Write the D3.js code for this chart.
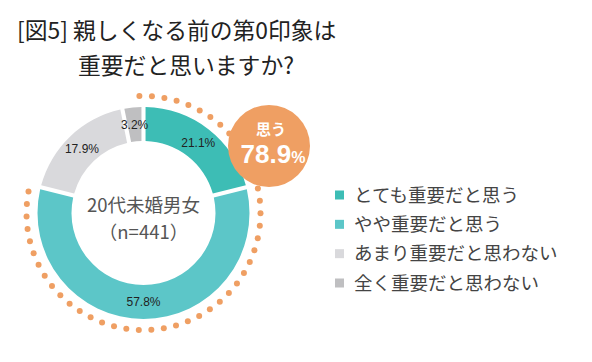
<!DOCTYPE html>
<html><head><meta charset="utf-8">
<script src="https://cdn.jsdelivr.net/npm/d3@7"></script>
<style>
html,body{margin:0;padding:0;background:#fff;}
svg{display:block;font-family:"Noto Sans CJK JP","Noto Sans",sans-serif;}
</style></head>
<body>
<svg id="chart" width="592" height="362"></svg>
<script>
const titleLines = ["[図5] 親しくなる前の第0印象は", "重要だと思いますか?"];
const categories = ["とても重要だと思う", "やや重要だと思う", "あまり重要だと思わない", "全く重要だと思わない"];
const values = [21.1, 57.8, 17.9, 3.2];
const colors = ["#3dbdb5", "#5cc6c8", "#d9d9dc", "#bfbfc1"];
const centerLines = ["20代未婚男女", "（n=441）"];
const highlightLabel = "思う";
const highlightValue = 78.9;

const svg = d3.select("#chart");
const cx = 143.5, cy = 213;
const rOuter = 106, rInner = 72, rDots = 117;
const orange = "#ef9f63";

// Title
svg.append("text").attr("x", 17).attr("y", 39)
  .attr("font-size", 22.8).attr("fill", "#222").text(titleLines[0]);
svg.append("text").attr("x", 78).attr("y", 74)
  .attr("font-size", 22.8).attr("fill", "#222").text(titleLines[1]);

const g = svg.append("g").attr("transform", `translate(${cx},${cy})`);

const angle = d3.scaleLinear().domain([0, 100]).range([0, 2 * Math.PI]);

// dotted arc for the "思う" total
const a0 = angle(0) - 0.035, a1 = angle(highlightValue) - 0.06;
const nDots = 47;
const dotAngles = d3.range(nDots).map(i => a0 + (a1 - a0) * i / (nDots - 1));
g.selectAll("circle.dot").data(dotAngles).join("circle")
  .attr("class", "dot")
  .attr("cx", a => rDots * Math.sin(a))
  .attr("cy", a => -rDots * Math.cos(a))
  .attr("r", 3)
  .attr("fill", orange);

// donut
const pie = d3.pie().sort(null).value(d => d).startAngle(0).endAngle(2 * Math.PI);
const arcs = pie(values);
const arc = d3.arc().innerRadius(rInner).outerRadius(rOuter).padAngle(0.032);
const labelArc = d3.arc().innerRadius(89).outerRadius(89);

g.selectAll("path.slice").data(arcs).join("path")
  .attr("class", "slice")
  .attr("d", arc)
  .attr("fill", (d, i) => colors[i]);

g.selectAll("text.pct").data(arcs).join("text")
  .attr("class", "pct")
  .attr("transform", d => `translate(${labelArc.centroid(d)})`)
  .attr("text-anchor", "middle").attr("dy", "0.35em")
  .attr("font-size", 12).attr("fill", "#222")
  .attr("font-family", "Liberation Sans, Arial, sans-serif")
  .text(d => d3.format(".1f")(d.data) + "%");

// center label
g.append("text").attr("text-anchor", "middle").attr("y", -7)
  .attr("dy", "0.35em").attr("font-size", 18.5).attr("fill", "#555").text(centerLines[0]);
g.append("text").attr("text-anchor", "middle").attr("y", 20)
  .attr("dy", "0.35em").attr("font-size", 18.5).attr("fill", "#555").text(centerLines[1]);

// highlight bubble
const bx = 269, by = 146, br = 41;
svg.append("circle").attr("cx", bx).attr("cy", by).attr("r", br).attr("fill", orange);
svg.append("text").attr("x", bx + 2).attr("y", by - 16).attr("dy", "0.35em")
  .attr("text-anchor", "middle").attr("font-size", 15).attr("font-weight", "bold")
  .attr("fill", "#fff").text(highlightLabel);
const vt = svg.append("text").attr("x", bx + 4).attr("y", by + 11).attr("dy", "0.35em")
  .attr("text-anchor", "middle").attr("fill", "#fff").attr("font-weight", "bold")
  .attr("font-family", "Liberation Sans, Arial, sans-serif");
vt.append("tspan").attr("font-size", 26).text(d3.format(".1f")(highlightValue));
vt.append("tspan").attr("font-size", 16).text("%");

// legend
const legendY = d3.scalePoint().domain(categories).range([195, 283]);
const lg = svg.append("g");
lg.selectAll("rect").data(categories).join("rect")
  .attr("x", 335).attr("y", d => legendY(d) - 4.5)
  .attr("width", 9).attr("height", 9)
  .attr("fill", (d, i) => colors[i]);
lg.selectAll("text").data(categories).join("text")
  .attr("x", 354).attr("y", d => legendY(d)).attr("dy", "0.36em")
  .attr("font-size", 18.5).attr("fill", "#444").text(d => d);
</script>
</body></html>
